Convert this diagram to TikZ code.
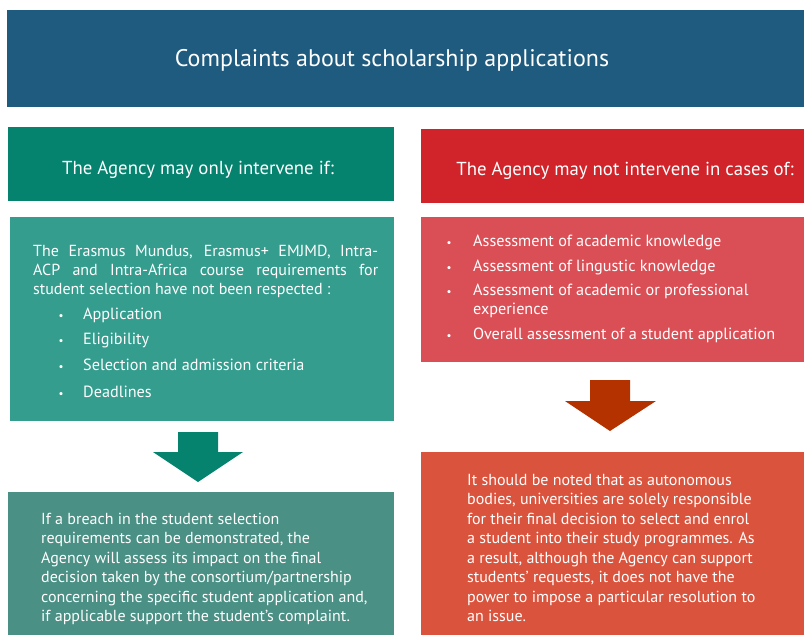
\documentclass[tikz,border=0pt]{standalone}
\usepackage{fontspec}
\setmainfont{PT Sans}
\usetikzlibrary{positioning}
\definecolor{titleblue}{HTML}{1E5B7E}
\definecolor{okhead}{HTML}{05836F}
\definecolor{okbody}{HTML}{359D8E}
\definecolor{okfoot}{HTML}{4A9084}
\definecolor{nohead}{HTML}{D1232A}
\definecolor{nobody}{HTML}{DA4F56}
\definecolor{noarrow}{HTML}{B33200}
\definecolor{nofoot}{HTML}{DA533D}

\begin{document}
\begin{tikzpicture}[x=1pt,y=-1pt,
  txt/.style={text=white,inner sep=0pt},
  para/.style={txt,anchor=base west,align=left,font=\fontsize{16}{19.5}\selectfont},
  item/.style={txt,anchor=base west,font=\fontsize{16.2}{19}\selectfont},
  dot/.style={txt,anchor=base,font=\fontsize{11}{13}\selectfont}]
\useasboundingbox (0,0) rectangle (804,635);
% title
\fill[titleblue] (7,10) rectangle (804,107);
\node[txt,anchor=base,font=\fontsize{24}{28}\selectfont] (title) at (392,66.5) {Complaints about scholarship applications};
% left column
\fill[okhead] (8,127) rectangle (394,201);
\node[txt,anchor=base,font=\fontsize{18.8}{22}\selectfont] (okhd) at (198,174) {The Agency may only intervene if:};
\fill[okbody] (10,217) rectangle (394,421);
\node[para,font=\fontsize{16}{19}\selectfont] (okpar) at (33,294) {\makebox[345pt][s]{The Erasmus Mundus, Erasmus+ EMJMD, Intra-}\\
  \makebox[345pt][s]{ACP and Intra-Africa course requirements for}\\
  student selection have not been respected :};
\foreach \y/\t in {319/Application,344/Eligibility,370/Selection and admission criteria,397/Deadlines}{
  \node[dot] (okdot\y) at (61,\y) {\textbullet};
  \node[item] (okit\y) at (83,\y) {\t};
}
\fill[okhead] (178,432)--++(40,0)--++(0,20)--++(25,0)--(198,482)--(153,452)--++(25,0)--cycle;
\fill[okfoot] (8,492) rectangle (394,635);
\node[para] (okft) at (41,621.5) {If a breach in the student selection\\
  requirements can be demonstrated, the\\
  Agency will assess its impact on the final\\
  decision taken by the consortium/partnership\\
  concerning the specific student application and,\\
  if applicable support the student's complaint.};
% right column
\fill[nohead] (421,129) rectangle (804,203);
\node[txt,anchor=base,font=\fontsize{18.8}{22}\selectfont] (nohd) at (625,175) {The Agency may not intervene in cases of:};
\fill[nobody] (421,217) rectangle (804,362);
\foreach \y/\t in {246/Assessment of academic knowledge,271/Assessment of lingustic knowledge,339/Overall assessment of a student application}{
  \node[dot] (nodot\y) at (449,\y) {\textbullet};
  \node[item] (noit\y) at (473,\y) {\t};
}
\node[dot] (nodot295) at (449,295.3) {\textbullet};
\node[item,align=left] (noit295) at (473,314) {Assessment of academic or professional\\experience};
\fill[noarrow] (590,380)--++(40,0)--++(0,21)--++(26,0)--(610,431)--(565,401)--++(25,0)--cycle;
\fill[nofoot] (421,452) rectangle (804,635);
\node[para] (noft) at (467,621.5) {It should be noted that as autonomous\\
  bodies, universities are solely responsible\\
  for their final decision to select and enrol\\
  a student into their study programmes. As\\
  a result, although the Agency can support\\
  students' requests, it does not have the\\
  power to impose a particular resolution to\\
  an issue.};
\end{tikzpicture}
\end{document}
